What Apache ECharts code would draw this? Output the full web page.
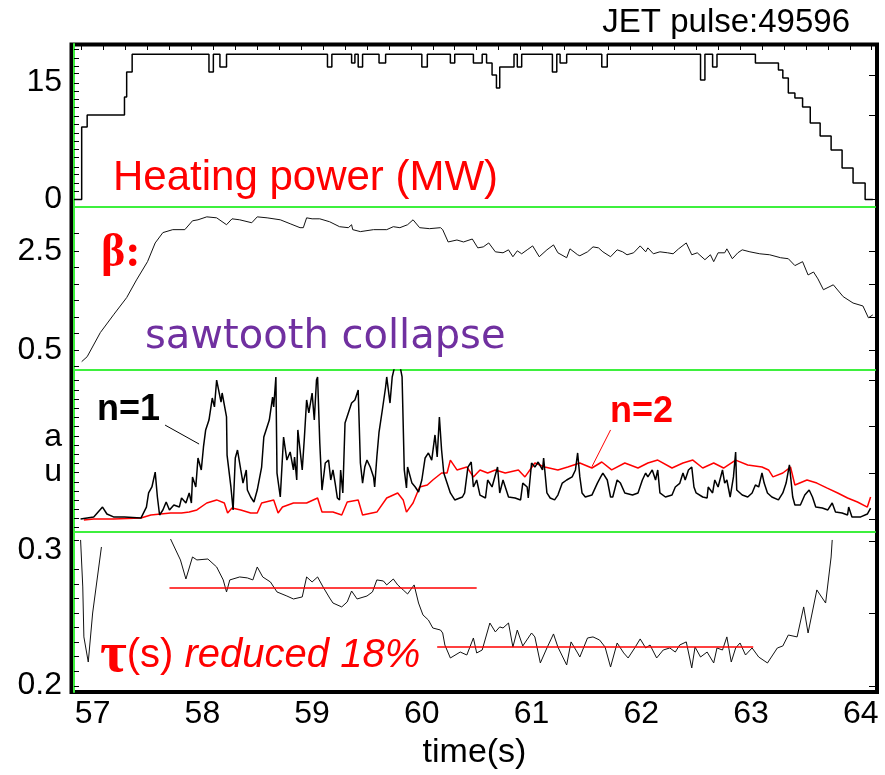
<!DOCTYPE html>
<html>
<head>
<meta charset="utf-8">
<script src="https://cdn.jsdelivr.net/npm/echarts@6/dist/echarts.min.js"></script>
<style>
    html, body { margin: 0; padding: 0; background: #fff; }
    #chart { width: 885px; height: 775px; }
</style>
</head>
<body>
<div id="chart"></div>
<script>
// 时间轴 time(s)
var timeLabels = [57, 58, 59, 60, 61, 62, 63, 64];
var topTicks = [56.9, 57.1, 57.3, 57.5, 57.7, 57.9, 58.1, 58.3, 58.5, 58.7, 58.9, 59.1, 59.3, 59.5, 59.7, 59.9,
    60.1, 60.3, 60.5, 60.7, 60.9, 61.1, 61.3, 61.5, 61.7, 61.9, 62.1, 62.3, 62.5, 62.7, 62.9, 63.1, 63.3, 63.5,
    63.7, 63.9, 64.1];

// heating power (MW), step: [start time, value]
var powerPoints = [
    [56.83, 0], [56.90, 9.26], [56.95, 10.79], [57.29, 13.09], [57.31, 16.28], [57.36, 18.54],
    [58.06, 16.28], [58.10, 18.54], [58.16, 16.92], [58.22, 18.54], [59.14, 16.92], [59.18, 18.54],
    [59.36, 17.43], [59.39, 18.54], [59.42, 16.92], [59.46, 18.54], [59.61, 17.43], [59.67, 18.54],
    [60.00, 16.92], [60.05, 18.54], [60.26, 17.43], [60.30, 18.54], [60.47, 17.43], [60.55, 18.54],
    [60.59, 17.43], [60.64, 15.89], [60.68, 14.23], [60.71, 16.92], [60.84, 18.54], [60.87, 16.92],
    [60.91, 18.54], [61.19, 16.28], [61.23, 18.54], [61.26, 17.43], [61.32, 18.54], [61.64, 16.92],
    [61.69, 18.54], [62.54, 15.26], [62.58, 18.54], [62.65, 16.92], [62.69, 18.54], [63.04, 17.43],
    [63.25, 16.53], [63.29, 15.51], [63.34, 13.60], [63.40, 12.96], [63.47, 11.81], [63.54, 9.77],
    [63.63, 8.11], [63.73, 6.32], [63.83, 4.02], [63.93, 2.11], [64.04, 0], [64.11, 0]
];
var powerLabels = [0, 15];
var powerTicks = [0.06, 1.09, 2.11, 3.26, 4.15, 5.43, 6.45, 7.47, 8.49, 9.64, 10.66, 11.81, 12.83, 13.85,
    14.87, 16.15, 17.04, 18.06, 19.21];
var powerTicksRight = [0, 10.7, 15.9];

// beta
var betaPoints = [
    [56.90, 0.26], [56.95, 0.36], [57.07, 0.85], [57.19, 1.21], [57.31, 1.56], [57.40, 1.92], [57.50, 2.29],
    [57.57, 2.67], [57.64, 2.88], [57.73, 2.94], [57.84, 2.94], [57.91, 3.12], [57.96, 3.14], [58.04, 3.20],
    [58.13, 3.18], [58.22, 3.04], [58.27, 3.16], [58.34, 3.14], [58.45, 3.08], [58.50, 3.20], [58.59, 3.18],
    [58.71, 3.14], [58.80, 3.06], [58.89, 2.98], [58.92, 2.98], [58.95, 3.18], [59.00, 3.16], [59.07, 3.16],
    [59.16, 3.10], [59.25, 3.00], [59.33, 2.98], [59.36, 3.04], [59.37, 2.94], [59.44, 2.90], [59.56, 2.94],
    [59.68, 2.94], [59.74, 3.00], [59.80, 2.98], [59.87, 3.04], [59.92, 3.14], [59.98, 2.98], [60.07, 2.96],
    [60.17, 2.98], [60.19, 2.94], [60.24, 2.69], [60.32, 2.73], [60.38, 2.69], [60.46, 2.75], [60.51, 2.57],
    [60.56, 2.59], [60.61, 2.67], [60.67, 2.49], [60.74, 2.47], [60.79, 2.53], [60.83, 2.39], [60.87, 2.51],
    [60.91, 2.45], [60.96, 2.53], [61.01, 2.61], [61.07, 2.39], [61.14, 2.53], [61.20, 2.63], [61.24, 2.47],
    [61.32, 2.37], [61.35, 2.55], [61.42, 2.43], [61.44, 2.41], [61.51, 2.49], [61.56, 2.59], [61.61, 2.57],
    [61.65, 2.49], [61.72, 2.39], [61.78, 2.53], [61.83, 2.49], [61.87, 2.43], [61.93, 2.47], [61.99, 2.61],
    [62.04, 2.49], [62.06, 2.57], [62.11, 2.45], [62.17, 2.49], [62.24, 2.47], [62.29, 2.45], [62.34, 2.55],
    [62.41, 2.67], [62.46, 2.43], [62.51, 2.47], [62.58, 2.33], [62.63, 2.43], [62.66, 2.29], [62.70, 2.47],
    [62.76, 2.47], [62.78, 2.55], [62.83, 2.35], [62.88, 2.47], [62.92, 2.53], [62.99, 2.49], [63.08, 2.45],
    [63.17, 2.43], [63.27, 2.37], [63.34, 2.35], [63.40, 2.21], [63.47, 2.29], [63.52, 2.02], [63.57, 2.08],
    [63.61, 1.94], [63.66, 1.72], [63.75, 1.82], [63.84, 1.58], [63.93, 1.45], [64.02, 1.39], [64.07, 1.15],
    [64.11, 1.21]
];
var betaLabels = [0.5, 2.5];
var betaTicks = [2.87, 2.5, 2.17, 1.83, 1.5, 1.17, 0.83, 0.5, 0.17];
var betaTicksRight = [2.5, 1.83, 1.17, 0.5];

// n=1 / n=2 mode amplitude (au)
var n1Points = [
    [56.89, 0.80], [57.01, 0.93], [57.09, 1.54], [57.13, 1.11], [57.19, 0.93], [57.29, 0.93], [57.44, 0.86],
    [57.49, 1.54], [57.51, 2.41], [57.54, 2.78], [57.57, 3.70], [57.59, 2.16], [57.61, 1.05], [57.64, 1.36],
    [57.67, 1.85], [57.70, 1.36], [57.74, 1.67], [57.79, 1.54], [57.81, 2.10], [57.85, 1.79], [57.88, 2.41],
    [57.90, 1.79], [57.91, 3.40], [57.94, 2.78], [57.96, 4.57], [57.99, 3.83], [58.01, 5.25], [58.03, 6.30],
    [58.06, 6.91], [58.09, 8.27], [58.11, 7.72], [58.13, 9.38], [58.17, 8.02], [58.18, 8.58], [58.22, 7.10],
    [58.225, 4.75], [58.26, 2.78], [58.28, 1.36], [58.30, 4.57], [58.32, 5.06], [58.35, 3.83], [58.37, 3.02],
    [58.40, 3.83], [58.41, 2.59], [58.44, 2.16], [58.47, 1.85], [58.50, 2.59], [58.54, 4.01], [58.56, 5.86],
    [58.61, 6.91], [58.64, 8.33], [58.65, 7.72], [58.67, 9.57], [58.68, 3.64], [58.71, 2.16], [58.74, 5.86],
    [58.77, 4.44], [58.80, 4.94], [58.83, 3.83], [58.84, 4.63], [58.86, 3.21], [58.87, 6.30], [58.91, 3.83],
    [58.93, 5.86], [58.95, 8.15], [58.97, 7.35], [59.00, 8.58], [59.02, 6.91], [59.04, 9.38], [59.05, 9.57],
    [59.07, 5.49], [59.09, 2.59], [59.12, 4.26], [59.15, 4.44], [59.17, 3.21], [59.19, 3.83], [59.21, 3.02],
    [59.23, 2.10], [59.25, 1.98], [59.26, 3.83], [59.28, 2.41], [59.30, 6.73], [59.33, 7.35], [59.36, 7.96],
    [59.39, 8.15], [59.42, 8.77], [59.44, 4.26], [59.46, 3.02], [59.48, 4.01], [59.50, 4.44], [59.53, 4.01],
    [59.56, 3.40], [59.57, 2.78], [59.59, 4.63], [59.61, 6.17], [59.64, 7.53], [59.67, 8.95], [59.68, 9.57],
    [59.71, 7.96], [59.73, 9.57], [59.78, 11.0], [59.82, 9.57], [59.84, 3.83], [59.86, 2.72], [59.87, 4.01],
    [59.91, 3.02], [59.94, 2.78], [59.97, 2.47], [60.00, 3.21], [60.03, 4.57], [60.06, 4.88], [60.09, 4.44],
    [60.12, 5.99], [60.14, 4.63], [60.16, 7.10], [60.18, 5.06], [60.20, 3.64], [60.23, 3.02], [60.26, 2.41],
    [60.30, 1.98], [60.37, 2.16], [60.39, 2.41], [60.42, 4.01], [60.45, 4.32], [60.47, 2.78], [60.50, 3.21],
    [60.53, 2.28], [60.58, 2.10], [60.60, 3.21], [60.64, 2.78], [60.69, 4.01], [60.71, 2.41], [60.74, 3.21],
    [60.79, 2.16], [60.85, 2.10], [60.90, 1.98], [60.92, 3.02], [60.96, 2.78], [60.97, 2.10], [61.00, 4.26],
    [61.03, 4.01], [61.06, 4.32], [61.10, 3.83], [61.11, 4.57], [61.14, 2.41], [61.17, 2.10], [61.21, 1.98],
    [61.24, 2.28], [61.28, 3.02], [61.32, 3.21], [61.37, 3.40], [61.40, 3.83], [61.42, 4.88], [61.44, 3.40],
    [61.46, 2.41], [61.49, 2.16], [61.55, 2.28], [61.60, 3.02], [61.63, 3.40], [61.65, 3.64], [61.69, 3.21],
    [61.72, 2.16], [61.74, 2.16], [61.78, 3.21], [61.81, 3.02], [61.85, 2.41], [61.92, 2.28], [61.97, 2.41],
    [62.01, 3.21], [62.04, 3.64], [62.06, 3.40], [62.10, 3.83], [62.13, 3.21], [62.15, 3.83], [62.17, 2.41],
    [62.22, 2.16], [62.28, 2.28], [62.31, 2.78], [62.35, 3.00], [62.38, 3.64], [62.40, 3.21], [62.43, 3.83],
    [62.46, 4.01], [62.48, 2.78], [62.50, 2.41], [62.56, 2.16], [62.60, 2.10], [62.61, 2.78], [62.65, 2.41],
    [62.67, 3.21], [62.70, 2.78], [62.74, 3.83], [62.76, 3.02], [62.78, 3.21], [62.81, 2.16], [62.84, 3.40],
    [62.86, 4.94], [62.87, 2.59], [62.92, 2.28], [62.97, 2.16], [63.01, 2.41], [63.04, 2.90], [63.07, 2.78],
    [63.10, 3.64], [63.12, 3.02], [63.15, 2.41], [63.19, 2.16], [63.25, 1.98], [63.29, 2.41], [63.32, 3.02],
    [63.35, 4.14], [63.38, 2.16], [63.40, 1.67], [63.45, 1.67], [63.49, 2.28], [63.53, 2.59], [63.56, 2.16],
    [63.59, 1.54], [63.65, 1.48], [63.70, 1.36], [63.74, 1.79], [63.77, 1.23], [63.83, 1.17], [63.88, 1.05],
    [63.89, 1.54], [63.92, 0.93], [64.00, 0.93], [64.06, 1.11], [64.09, 1.48]
];
var n2Points = [
    [56.92, 0.74], [57.01, 0.80], [57.19, 0.80], [57.44, 0.86], [57.53, 1.05], [57.62, 1.11], [57.71, 1.17],
    [57.81, 1.17], [57.88, 1.23], [57.95, 1.36], [58.04, 1.79], [58.13, 1.98], [58.20, 1.79], [58.23, 1.17],
    [58.27, 1.48], [58.35, 1.36], [58.44, 1.17], [58.50, 1.17], [58.54, 1.79], [58.65, 1.98], [58.69, 1.17],
    [58.73, 1.54], [58.83, 1.79], [58.95, 1.79], [59.05, 2.10], [59.09, 1.23], [59.19, 1.23], [59.27, 1.05],
    [59.32, 1.85], [59.42, 1.98], [59.46, 1.05], [59.59, 1.23], [59.68, 2.10], [59.78, 2.41], [59.83, 1.98],
    [59.86, 1.23], [59.92, 1.79], [59.98, 2.78], [60.05, 2.90], [60.10, 3.21], [60.18, 3.64], [60.23, 3.64],
    [60.26, 4.44], [60.32, 3.83], [60.41, 4.01], [60.47, 3.40], [60.53, 3.83], [60.60, 3.64], [60.67, 3.83],
    [60.76, 3.64], [60.88, 3.83], [60.94, 3.40], [61.03, 4.26], [61.12, 4.01], [61.24, 3.83], [61.33, 4.01],
    [61.44, 4.26], [61.55, 3.95], [61.64, 4.32], [61.73, 3.83], [61.85, 4.26], [61.97, 3.95], [62.06, 4.26],
    [62.15, 4.44], [62.28, 3.95], [62.38, 4.26], [62.47, 4.44], [62.56, 3.95], [62.66, 4.26], [62.75, 3.95],
    [62.86, 4.44], [62.97, 4.14], [63.10, 4.01], [63.16, 3.83], [63.20, 3.40], [63.29, 3.64], [63.36, 4.01],
    [63.40, 2.90], [63.51, 3.21], [63.60, 3.02], [63.69, 2.72], [63.79, 2.41], [63.88, 2.10], [63.97, 1.85],
    [64.06, 1.54], [64.09, 2.16]
];
var n1Leader = [[57.66, 6.60], [57.97, 5.43]];
var n2Leader = [[61.72, 6.30], [61.55, 4.03]];
var auLabelValues = [5.86, 3.70];
var auLabelText = ['a', 'u'];
var auTicks = [0.29, 0.85, 1.40, 1.96, 2.53, 3.10, 3.66, 4.22, 4.80, 5.35, 5.92, 6.50, 7.06, 7.62, 8.17, 8.74, 9.38];
var auTicksRight = [0.80, 3.64, 6.54, 9.38];

// tau (s), null = gap
var tauPoints = [
    [56.89, 0.3074], [56.91, 0.2726], [56.92, 0.2356], [56.96, 0.2170], [57.00, 0.2533], [57.08, 0.3022],
    [57.40, null],
    [57.71, 0.3081], [57.80, 0.2926], [57.85, 0.2785], [57.91, 0.2948], [57.95, 0.2926], [58.05, 0.2933],
    [58.13, 0.2874], [58.19, 0.2778], [58.22, 0.2689], [58.25, 0.2778], [58.34, 0.2800], [58.41, 0.2793],
    [58.46, 0.2778], [58.50, 0.2874], [58.55, 0.2800], [58.62, 0.2763], [58.68, 0.2689], [58.77, 0.2659],
    [58.83, 0.2637], [58.91, 0.2652], [58.95, 0.2800], [59.00, 0.2763], [59.05, 0.2800], [59.10, 0.2726],
    [59.16, 0.2644], [59.19, 0.2607], [59.27, 0.2578], [59.32, 0.2615], [59.36, 0.2696], [59.41, 0.2637],
    [59.50, 0.2659], [59.55, 0.2689], [59.59, 0.2778], [59.65, 0.2770], [59.68, 0.2741], [59.74, 0.2785],
    [59.78, 0.2741], [59.83, 0.2704], [59.87, 0.2674], [59.93, 0.2741], [59.97, 0.2607], [60.01, 0.2519],
    [60.06, 0.2481], [60.10, 0.2422], [60.17, 0.2407], [60.19, 0.2385], [60.21, 0.2296], [60.26, 0.2200],
    [60.35, 0.2244], [60.41, 0.2222], [60.47, 0.2348], [60.50, 0.2237], [60.55, 0.2259], [60.62, 0.2459],
    [60.67, 0.2393], [60.71, 0.2430], [60.74, 0.2422], [60.79, 0.2459], [60.83, 0.2281], [60.87, 0.2407],
    [60.92, 0.2289], [61.00, 0.2385], [61.03, 0.2356], [61.08, 0.2163], [61.14, 0.2274], [61.20, 0.2378],
    [61.24, 0.2281], [61.32, 0.2148], [61.36, 0.2319], [61.42, 0.2237], [61.44, 0.2207], [61.51, 0.2348],
    [61.56, 0.2356], [61.62, 0.2333], [61.67, 0.2281], [61.72, 0.2133], [61.78, 0.2311], [61.84, 0.2237],
    [61.88, 0.2200], [61.94, 0.2274], [61.99, 0.2341], [62.04, 0.2274], [62.08, 0.2296], [62.14, 0.2200],
    [62.20, 0.2259], [62.26, 0.2274], [62.31, 0.2244], [62.35, 0.2296], [62.41, 0.2319], [62.46, 0.2126],
    [62.49, 0.2281], [62.54, 0.2207], [62.60, 0.2244], [62.66, 0.2163], [62.69, 0.2274], [62.74, 0.2259],
    [62.78, 0.2356], [62.82, 0.2170], [62.86, 0.2274], [62.90, 0.2311], [62.95, 0.2222], [63.01, 0.2274],
    [63.07, 0.2207], [63.15, 0.2163], [63.24, 0.2274], [63.29, 0.2289], [63.34, 0.2370], [63.42, 0.2356],
    [63.48, 0.2578], [63.52, 0.2385], [63.60, 0.2704], [63.68, 0.2607], [63.73, 0.2948], [63.74, 0.3074]
];
var tauBefore = [[57.70, 0.2719], [60.50, 0.2719]];
var tauAfter = [[60.14, 0.2281], [63.02, 0.2281]];
var tauLabels = [0.2, 0.3];
var tauTicks = [0.3074, 0.2859, 0.2748, 0.2644, 0.2533, 0.2430, 0.2319, 0.2215, 0.2104, 0.1993];
var tauTicksRight = [0.1993, 0.2533, 0.3067];

var GREEN = '#3ef03e';
var RED = '#ff0000';
var FONT = '"Liberation Sans", Arial, sans-serif';

// 实例化对象
var myChart = echarts.init(document.getElementById('chart'), null, { renderer: 'canvas' });

var xMin = 56.83, xMax = 64.13;

function panelX(grid, green) {
    return {
        type: 'value', gridIndex: grid, min: xMin, max: xMax, position: 'bottom',
        axisLine: { show: green, onZero: false, lineStyle: { color: GREEN, width: 2 } },
        axisTick: { show: false }, axisLabel: { show: false }, splitLine: { show: false }
    };
}

function panelY(grid, min, max, labels, ticks, fmt) {
    return {
        type: 'value', gridIndex: grid, min: min, max: max, position: 'left',
        axisLine: { show: true, onZero: false, lineStyle: { color: GREEN, width: 2 } },
        axisTick: { show: true, inside: true, length: 5, customValues: ticks, lineStyle: { color: '#000' } },
        axisLabel: {
            show: true, customValues: labels, margin: 12, color: '#000',
            fontSize: 32, fontFamily: FONT, formatter: fmt
        },
        splitLine: { show: false }
    };
}

function rightY(grid, min, max, ticks) {
    return {
        type: 'value', gridIndex: grid, min: min, max: max, position: 'right',
        axisLine: { show: false, onZero: false },
        axisTick: { show: true, inside: true, length: 6, customValues: ticks, lineStyle: { color: '#000' } },
        axisLabel: { show: false }, splitLine: { show: false }
    };
}

function trace(name, xi, yi, data, color, width, step) {
    return {
        name: name, type: 'line', xAxisIndex: xi, yAxisIndex: yi, data: data,
        showSymbol: false, symbol: 'none', step: step || false, connectNulls: false,
        lineStyle: { color: color, width: width }, silent: true, clip: true
    };
}

var option = {
    animation: false,
    backgroundColor: '#fff',
    grid: [
        { left: 74, right: 10, top: 44, height: 163, outerBoundsMode: 'none' },
        { left: 74, right: 10, top: 207, height: 163, outerBoundsMode: 'none' },
        { left: 74, right: 10, top: 370, height: 162, outerBoundsMode: 'none' },
        { left: 74, right: 10, top: 532, height: 160, outerBoundsMode: 'none' },
        // 外框
        { left: 71.5, top: 44.5, width: 805.5, height: 647.5, show: true, borderColor: '#000', borderWidth: 4,
          backgroundColor: 'transparent', outerBoundsMode: 'none' }
    ],
    xAxis: [
        panelX(0, true),
        panelX(1, true),
        panelX(2, true),
        {
            type: 'value', gridIndex: 3, min: xMin, max: xMax, position: 'bottom',
            axisLine: { show: false, onZero: false }, axisTick: { show: false }, splitLine: { show: false },
            axisLabel: { customValues: timeLabels, margin: 6, color: '#000', fontSize: 32, fontFamily: FONT },
            name: 'time(s)', nameLocation: 'middle', nameGap: 44,
            nameTextStyle: { color: '#000', fontSize: 34, fontFamily: FONT }
        },
        {
            type: 'value', gridIndex: 0, min: xMin, max: xMax, position: 'top',
            axisLine: { show: false, onZero: false },
            axisTick: { show: true, inside: true, length: 6, customValues: topTicks, lineStyle: { color: '#000' } },
            axisLabel: { show: false }, splitLine: { show: false }
        },
        { type: 'value', gridIndex: 4, min: 0, max: 1, show: false }
    ],
    yAxis: [
        panelY(0, -0.96, 19.85, powerLabels, powerTicks),
        rightY(0, -0.96, 19.85, powerTicksRight),
        panelY(1, 0.09, 3.40, betaLabels, betaTicks),
        rightY(1, 0.09, 3.40, betaTicksRight),
        panelY(2, 0, 10, auLabelValues, auTicks, function (v) {
            var i = auLabelValues.indexOf(v);
            return i >= 0 ? auLabelText[i] : '';
        }),
        rightY(2, 0, 10, auTicksRight),
        panelY(3, 0.1948, 0.3133, tauLabels, tauTicks),
        rightY(3, 0.1948, 0.3133, tauTicksRight),
        { type: 'value', gridIndex: 4, min: 0, max: 1, show: false }
    ],
    series: [
        trace('power', 0, 0, powerPoints, '#000', 1.5, 'end'),
        trace('beta', 1, 2, betaPoints, '#111', 1),
        trace('n=2', 2, 4, n2Points, RED, 1.5),
        trace('n=1', 2, 4, n1Points, '#000', 1.5),
        trace('n1 leader', 2, 4, n1Leader, '#000', 1),
        trace('n2 leader', 2, 4, n2Leader, RED, 1),
        trace('tau', 3, 6, tauPoints, '#111', 1),
        trace('tau before', 3, 6, tauBefore, RED, 1.5),
        trace('tau after', 3, 6, tauAfter, RED, 1.5)
    ],
    // 图上文字
    graphic: [
        { type: 'text', x: 850, y: 23, style: { text: 'JET pulse:49596', font: '33px ' + FONT, fill: '#000', align: 'right', verticalAlign: 'middle' } },
        { type: 'text', x: 113, y: 178, style: { text: 'Heating power (MW)', font: '42px ' + FONT, fill: RED, verticalAlign: 'middle' } },
        { type: 'text', x: 101, y: 254, style: { text: 'β:', font: 'bold 46px "Liberation Serif", serif', fill: RED, verticalAlign: 'middle' } },
        { type: 'text', x: 145, y: 338, style: { text: 'sawtooth collapse', font: '40px "DejaVu Sans", sans-serif', fill: '#7030a0', verticalAlign: 'middle' } },
        { type: 'text', x: 97, y: 410, style: { text: 'n=1', font: 'bold 36px ' + FONT, fill: '#000', verticalAlign: 'middle' } },
        { type: 'text', x: 610, y: 412, style: { text: 'n=2', font: 'bold 36px ' + FONT, fill: RED, verticalAlign: 'middle' } },
        {
            type: 'text', x: 100, y: 656,
            style: {
                text: '{t|τ}{p|(s)}{r| reduced 18%}', verticalAlign: 'middle',
                rich: {
                    t: { font: 'bold 58px "Liberation Serif", serif', fill: RED },
                    p: { font: '40px ' + FONT, fill: RED },
                    r: { font: 'italic 40px ' + FONT, fill: RED }
                }
            }
        }
    ]
};

// 配置给实例化对象
myChart.setOption(option);
</script>
</body>
</html>
